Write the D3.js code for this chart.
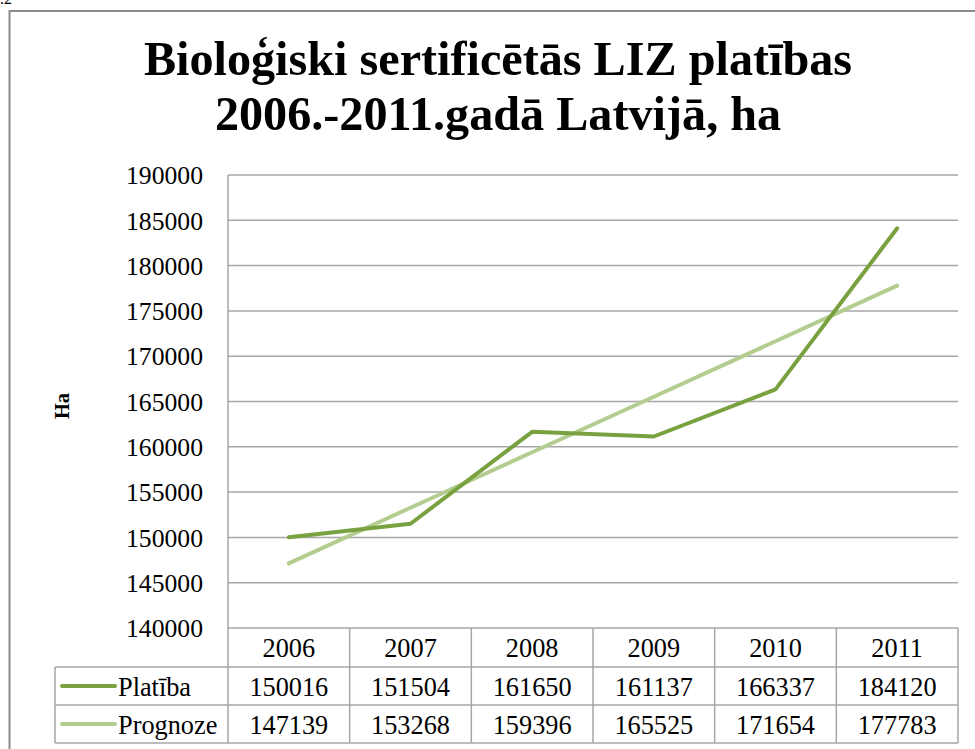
<!DOCTYPE html>
<html><head><meta charset="utf-8">
<script src="https://cdn.jsdelivr.net/npm/d3@7"></script>
</head><body style="margin:0;background:#fff">
<script>
const years = ["2006","2007","2008","2009","2010","2011"];
const platiba = [150016,151504,161650,161137,166337,184120];
const prognoze = [147139,153268,159396,165525,171654,177783];
const seriesNames = ["Platība","Prognoze"];
const yTicks = [140000,145000,150000,155000,160000,165000,170000,175000,180000,185000,190000];
const titleLines = ["Bioloģiski sertificētās LIZ platības","2006.-2011.gadā Latvijā, ha"];
const yLabel = "Ha";

const W=975,H=749;
const L=228,R=958,T=175,B=628;
const rowH=[628,667,705,743];
const tableLeft=55;
const colors=["#7aa140","#b3cd8e"];
const gridCol="#a6a6a6";
const FF="Liberation Serif";

const svg=d3.select("body").append("svg").attr("width",W).attr("height",H)
  .style("display","block").attr("font-family",FF);
svg.append("text").attr("x",0).attr("y",4).attr("font-size",16).attr("font-family",FF).text(".2");
svg.append("rect").attr("x",9.5).attr("y",11).attr("width",1000).attr("height",800)
  .attr("fill","none").attr("stroke","#8c8c8c").attr("stroke-width",2);

svg.selectAll("text.title").data(titleLines).join("text").attr("class","title")
  .attr("x",498).attr("y",(d,i)=>75+i*55).attr("text-anchor","middle").attr("font-family",FF)
  .attr("font-size",48.2).attr("font-weight","bold").text(d=>d);

const x=d3.scaleBand().domain(years).range([L,R]).padding(0);
const y=d3.scaleLinear().domain([140000,190000]).range([B,T]);

// gridlines
svg.append("g").selectAll("line").data(yTicks).join("line")
  .attr("x1",L).attr("x2",R).attr("y1",d=>y(d)).attr("y2",d=>y(d))
  .attr("stroke",gridCol).attr("stroke-width",1.5);
svg.append("line").attr("x1",L).attr("x2",L).attr("y1",T).attr("y2",rowH[3]).attr("stroke",gridCol).attr("stroke-width",1.5);

// y axis labels
const yAxis=d3.axisLeft(y).tickValues(yTicks).tickSize(0).tickPadding(0).tickFormat(d3.format("d"));
const ga=svg.append("g").attr("transform",`translate(203,0)`).call(yAxis);
ga.attr("font-family",FF).attr("font-size",25.7);
ga.select(".domain").remove();
ga.selectAll("text").attr("font-family",FF).attr("font-size",25.7).attr("fill","#000").attr("dy","0.34em");

svg.append("text").attr("transform","translate(69,406) rotate(-90)").attr("text-anchor","middle")
  .attr("font-family",FF).attr("font-size",20.5).attr("font-weight","bold").text(yLabel);

// lines
const line=d3.line().x((d,i)=>x(years[i])+x.bandwidth()/2).y(d=>y(d));
[prognoze,platiba].forEach((s,k)=>{
  const idx = k===0?1:0;
  svg.append("path").datum(s).attr("d",line).attr("fill","none")
    .attr("stroke",colors[idx]).attr("stroke-width",4).attr("stroke-linejoin","round").attr("stroke-linecap","round");
});

// data table
const FS=26.3;
const tg=svg.append("g").attr("font-family",FF);
[rowH[1],rowH[2],rowH[3]].forEach(yy=>tg.append("line").attr("x1",tableLeft).attr("x2",R).attr("y1",yy).attr("y2",yy).attr("stroke",gridCol).attr("stroke-width",1.5));
tg.append("line").attr("x1",tableLeft).attr("x2",tableLeft).attr("y1",rowH[1]).attr("y2",rowH[3]).attr("stroke",gridCol).attr("stroke-width",1.5);
years.forEach(yr=>{
  const xr=x(yr)+x.bandwidth();
  tg.append("line").attr("x1",xr).attr("x2",xr).attr("y1",rowH[0]).attr("y2",rowH[3]).attr("stroke",gridCol).attr("stroke-width",1.5);
});
tg.selectAll("text.yr").data(years).join("text").attr("class","yr").attr("x",d=>x(d)+x.bandwidth()/2).attr("y",(rowH[0]+rowH[1])/2)
  .attr("dy","0.38em").attr("text-anchor","middle").attr("font-family",FF).attr("font-size",FS).text(d=>d);
[platiba,prognoze].forEach((s,k)=>{
  const cy=(rowH[k+1]+rowH[k+2])/2;
  tg.selectAll(null).data(s).join("text").attr("x",(d,i)=>x(years[i])+x.bandwidth()/2).attr("y",cy)
    .attr("dy","0.38em").attr("text-anchor","middle").attr("font-family",FF).attr("font-size",FS).text(d=>d);
  tg.append("line").attr("x1",62).attr("x2",115).attr("y1",cy).attr("y2",cy).attr("stroke",colors[k]).attr("stroke-width",4).attr("stroke-linecap","round");
  tg.append("text").attr("x",118).attr("y",cy).attr("dy","0.38em").attr("font-family",FF).attr("font-size",FS).text(seriesNames[k]);
});
</script>
</body></html>
